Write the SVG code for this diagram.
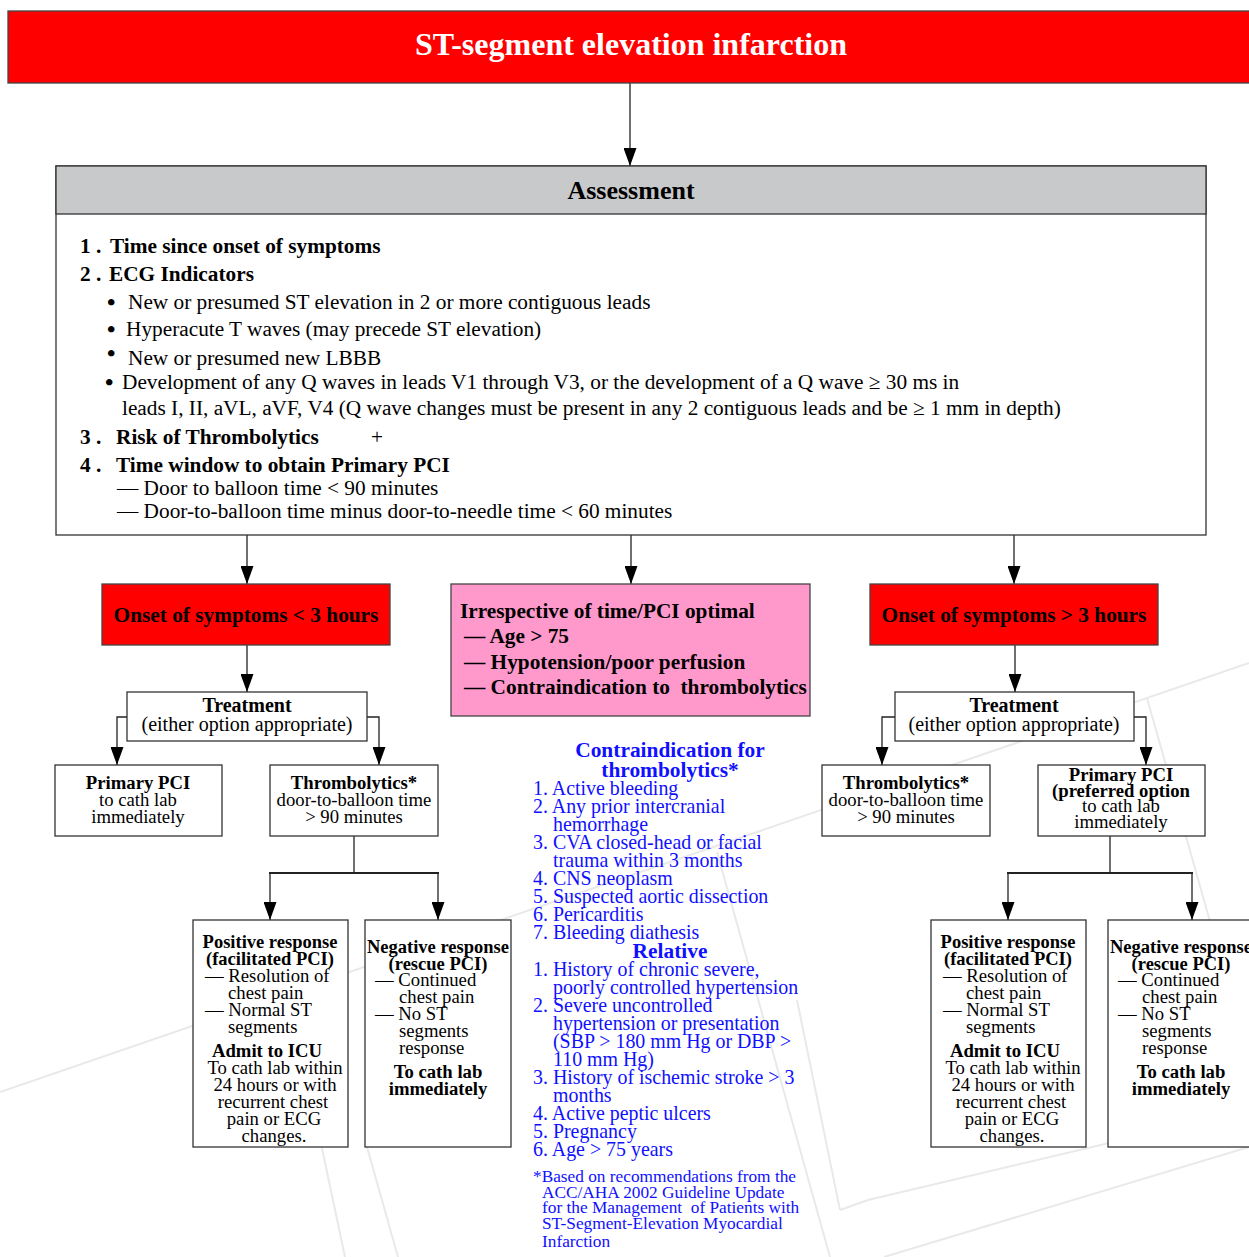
<svg xmlns="http://www.w3.org/2000/svg" width="1249" height="1257" viewBox="0 0 1249 1257">
<defs>
<marker id="ah" markerUnits="userSpaceOnUse" markerWidth="18" markerHeight="13" refX="18" refY="6.5" orient="auto" viewBox="0 0 18 13">
<path d="M0,0 L18,6.5 L0,13 Z" fill="#000"/>
</marker>
<style>
text{font-family:"Liberation Serif","Times New Roman",serif;fill:#000;white-space:pre}
.b{font-weight:bold}
.c{text-anchor:middle}
.box{fill:#fff;stroke:#333;stroke-width:1.3}
.red{fill:#ff0000;stroke:#444;stroke-width:1.3}
.pink{fill:#ff99cc;stroke:#444;stroke-width:1.3}
.wm{stroke:#e9e9e9;stroke-width:2;fill:none}
.con{stroke:#222;stroke-width:1.3;fill:none}
.arr{stroke:#222;stroke-width:1.3;fill:none;marker-end:url(#ah)}
.f21{font-size:21.3px}
.bu{font-size:24px;font-weight:bold}
.f20{font-size:20px}
.f18{font-size:18.7px}
.f17{font-size:18.5px}
.bl{font-size:19.9px;fill:#1010ff}
.bh{font-size:21.4px;font-weight:bold;fill:#1010ff;text-anchor:middle}
.fn{font-size:17.3px;fill:#1010ff}
</style>
</defs>
<rect width="1249" height="1257" fill="#fff"/>
<g id="watermark">
<line class="wm" x1="0" y1="1092" x2="1249" y2="663"/>
<line class="wm" x1="717" y1="852" x2="830" y2="1257"/>
<line class="wm" x1="1147" y1="698" x2="1249" y2="1060"/>
<line class="wm" x1="290" y1="997" x2="345" y2="1257"/>
<line class="wm" x1="367" y1="1147" x2="398" y2="1257"/>
<line class="wm" x1="797" y1="1000" x2="840" y2="1210"/>
<line class="wm" x1="868" y1="1200" x2="1249" y2="1110"/>
<line class="wm" x1="884" y1="1257" x2="1249" y2="1147"/>
<line class="wm" x1="868" y1="1200" x2="840" y2="1210"/>
</g>
<g id="connectors">
<line class="arr" x1="630" y1="83" x2="630" y2="166"/>
<line class="arr" x1="247" y1="535" x2="247" y2="584"/>
<line class="arr" x1="631" y1="535" x2="631" y2="584"/>
<line class="arr" x1="1014" y1="535" x2="1014" y2="584"/>
<line class="arr" x1="247" y1="645" x2="247" y2="692"/>
<line class="arr" x1="1015" y1="645" x2="1015" y2="692"/>
<polyline class="arr" points="127,717 117,717 117,765"/>
<polyline class="arr" points="367,717 379,717 379,765"/>
<polyline class="arr" points="895,717 882,717 882,765"/>
<polyline class="arr" points="1134,717 1146,717 1146,765"/>
<line class="con" x1="354" y1="836" x2="354" y2="873"/>
<line class="con" x1="269" y1="873" x2="439" y2="873" style="stroke-width:2"/>
<line class="arr" x1="270" y1="873" x2="270" y2="920"/>
<line class="arr" x1="438" y1="873" x2="438" y2="920"/>
<line class="con" x1="1110" y1="836" x2="1110" y2="873"/>
<line class="con" x1="1007" y1="873" x2="1193" y2="873" style="stroke-width:2"/>
<line class="arr" x1="1008" y1="873" x2="1008" y2="920"/>
<line class="arr" x1="1192" y1="873" x2="1192" y2="920"/>
</g>
<g id="title">
<rect class="red" x="8" y="11" width="1250" height="72"/>
<text class="b c" x="631" y="55" style="font-size:32px;fill:#fff">ST-segment elevation infarction</text>
</g>
<g id="assessment">
<rect class="box" x="56" y="166" width="1150" height="369"/>
<rect x="56" y="166" width="1150" height="48" fill="#c8c9cb" stroke="#333" stroke-width="1.3"/>
<text class="b c" x="631" y="199" style="font-size:26px">Assessment</text>
<text class="b f21" x="80" y="253">1 .</text>
<text class="b f21" x="110" y="253">Time since onset of symptoms</text>
<text class="b f21" x="80" y="281">2 .</text>
<text class="b f21" x="109" y="281">ECG Indicators</text>
<text class="bu" x="107" y="310">•</text>
<text class="f21" x="128" y="309">New or presumed ST elevation in 2 or more contiguous leads</text>
<text class="bu" x="107" y="337">•</text>
<text class="f21" x="126" y="336">Hyperacute T waves (may precede ST elevation)</text>
<text class="bu" x="107" y="361">•</text>
<text class="f21" x="128" y="365">New or presumed new LBBB</text>
<text class="bu" x="105" y="390">•</text>
<text class="f21" x="122" y="389">Development of any Q waves in leads V1 through V3, or the development of a Q wave ≥ 30 ms in</text>
<text class="f21" x="122" y="415">leads I, II, aVL, aVF, V4 (Q wave changes must be present in any 2 contiguous leads and be ≥ 1 mm in depth)</text>
<text class="b f21" x="80" y="444">3 .</text>
<text class="b f21" x="116" y="444">Risk of Thrombolytics</text>
<text class="f21" x="371" y="444">+</text>
<text class="b f21" x="80" y="472">4 .</text>
<text class="b f21" x="116" y="472">Time window to obtain Primary PCI</text>
<text class="f21" x="117" y="495">— Door to balloon time &lt; 90 minutes</text>
<text class="f21" x="117" y="518">— Door-to-balloon time minus door-to-needle time &lt; 60 minutes</text>
</g>
<g id="onset-lt3">
<rect class="red" x="102" y="584" width="288" height="61"/>
<text class="b c f21" x="246" y="622">Onset of symptoms &lt; 3 hours</text>
</g>
<g id="irrespective">
<rect class="pink" x="451" y="584" width="359" height="132"/>
<text class="b f21" x="460" y="618">Irrespective of time/PCI optimal</text>
<text class="b f21" x="464" y="643">— Age &gt; 75</text>
<text class="b f21" x="464" y="669">— Hypotension/poor perfusion</text>
<text class="b f21" x="464" y="694">— Contraindication to  thrombolytics</text>
</g>
<g id="onset-gt3">
<rect class="red" x="870" y="584" width="288" height="61"/>
<text class="b c f21" x="1014" y="622">Onset of symptoms &gt; 3 hours</text>
</g>
<g id="treatment-left">
<rect class="box" x="127" y="692" width="240" height="49"/>
<text class="b c f20" x="247" y="712">Treatment</text>
<text class="c f20" x="247" y="731">(either option appropriate)</text>
</g>
<g id="pci-left">
<rect class="box" x="55" y="765" width="167" height="71"/>
<text class="b c f18" x="138" y="789">Primary PCI</text>
<text class="c f18" x="138" y="806">to cath lab</text>
<text class="c f18" x="138" y="823">immediately</text>
</g>
<g id="thromb-left">
<rect class="box" x="270" y="765" width="168" height="71"/>
<text class="b c f18" x="354" y="789">Thrombolytics*</text>
<text class="c f18" x="354" y="806">door-to-balloon time</text>
<text class="c f18" x="354" y="823">&gt; 90 minutes</text>
</g>
<g id="positive-left">
<rect class="box" x="193" y="920" width="155" height="227"/>
<text class="b c f17" x="270" y="948">Positive response</text>
<text class="b c f17" x="270" y="965">(facilitated PCI)</text>
<text class="f18" x="205" y="982">— Resolution of</text>
<text class="f18" x="228" y="999">chest pain</text>
<text class="f18" x="205" y="1016">— Normal ST</text>
<text class="f18" x="228" y="1033">segments</text>
<text class="b c f18" x="267" y="1057">Admit to ICU</text>
<text class="c f18" x="275" y="1074">To cath lab within</text>
<text class="c f18" x="275" y="1091">24 hours or with</text>
<text class="c f18" x="273" y="1108">recurrent chest</text>
<text class="c f18" x="274" y="1125">pain or ECG</text>
<text class="c f18" x="274" y="1142">changes.</text>
</g>
<g id="negative-left">
<rect class="box" x="365" y="920" width="146" height="227"/>
<text class="b c f17" x="438" y="953">Negative response</text>
<text class="b c f17" x="438" y="970">(rescue PCI)</text>
<text class="f18" x="375" y="986">— Continued</text>
<text class="f18" x="399" y="1003">chest pain</text>
<text class="f18" x="375" y="1020">— No ST</text>
<text class="f18" x="399" y="1037">segments</text>
<text class="f18" x="399" y="1054">response</text>
<text class="b c f18" x="438" y="1078">To cath lab</text>
<text class="b c f18" x="438" y="1095">immediately</text>
</g>
<g id="contraindications">
<text class="bh" x="670" y="757">Contraindication for</text>
<text class="bh" x="670" y="777">thrombolytics*</text>
<text class="bl" x="533" y="795">1. Active bleeding</text>
<text class="bl" x="533" y="813">2. Any prior intercranial</text>
<text class="bl" x="553" y="831">hemorrhage</text>
<text class="bl" x="533" y="849">3. CVA closed-head or facial</text>
<text class="bl" x="553" y="867">trauma within 3 months</text>
<text class="bl" x="533" y="885">4. CNS neoplasm</text>
<text class="bl" x="533" y="903">5. Suspected aortic dissection</text>
<text class="bl" x="533" y="921">6. Pericarditis</text>
<text class="bl" x="533" y="939">7. Bleeding diathesis</text>
<text class="bh" x="670" y="958">Relative</text>
<text class="bl" x="533" y="976">1. History of chronic severe,</text>
<text class="bl" x="553" y="994">poorly controlled hypertension</text>
<text class="bl" x="533" y="1012">2. Severe uncontrolled</text>
<text class="bl" x="553" y="1030">hypertension or presentation</text>
<text class="bl" x="553" y="1048">(SBP &gt; 180 mm Hg or DBP &gt;</text>
<text class="bl" x="553" y="1066">110 mm Hg)</text>
<text class="bl" x="533" y="1084">3. History of ischemic stroke &gt; 3</text>
<text class="bl" x="553" y="1102">months</text>
<text class="bl" x="533" y="1120">4. Active peptic ulcers</text>
<text class="bl" x="533" y="1138">5. Pregnancy</text>
<text class="bl" x="533" y="1156">6. Age &gt; 75 years</text>
<text class="fn" x="533" y="1182">*Based on recommendations from the</text>
<text class="fn" x="542" y="1198">ACC/AHA 2002 Guideline Update</text>
<text class="fn" x="542" y="1213">for the Management  of Patients with</text>
<text class="fn" x="542" y="1229">ST-Segment-Elevation Myocardial</text>
<text class="fn" x="542" y="1247">Infarction</text>
</g>
<g id="treatment-right">
<rect class="box" x="895" y="692" width="239" height="49"/>
<text class="b c f20" x="1014" y="712">Treatment</text>
<text class="c f20" x="1014" y="731">(either option appropriate)</text>
</g>
<g id="thromb-right">
<rect class="box" x="822" y="765" width="168" height="71"/>
<text class="b c f18" x="906" y="789">Thrombolytics*</text>
<text class="c f18" x="906" y="806">door-to-balloon time</text>
<text class="c f18" x="906" y="823">&gt; 90 minutes</text>
</g>
<g id="pci-right">
<rect class="box" x="1038" y="765" width="167" height="71"/>
<text class="b c f18" x="1121" y="781">Primary PCI</text>
<text class="b c f18" x="1121" y="797">(preferred option</text>
<text class="c f18" x="1121" y="812">to cath lab</text>
<text class="c f18" x="1121" y="828">immediately</text>
</g>
<g id="positive-right">
<rect class="box" x="931" y="920" width="155" height="227"/>
<text class="b c f17" x="1008" y="948">Positive response</text>
<text class="b c f17" x="1008" y="965">(facilitated PCI)</text>
<text class="f18" x="943" y="982">— Resolution of</text>
<text class="f18" x="966" y="999">chest pain</text>
<text class="f18" x="943" y="1016">— Normal ST</text>
<text class="f18" x="966" y="1033">segments</text>
<text class="b c f18" x="1005" y="1057">Admit to ICU</text>
<text class="c f18" x="1013" y="1074">To cath lab within</text>
<text class="c f18" x="1013" y="1091">24 hours or with</text>
<text class="c f18" x="1011" y="1108">recurrent chest</text>
<text class="c f18" x="1012" y="1125">pain or ECG</text>
<text class="c f18" x="1012" y="1142">changes.</text>
</g>
<g id="negative-right">
<rect class="box" x="1108" y="920" width="150" height="227"/>
<text class="b c f17" x="1181" y="953">Negative response</text>
<text class="b c f17" x="1181" y="970">(rescue PCI)</text>
<text class="f18" x="1118" y="986">— Continued</text>
<text class="f18" x="1142" y="1003">chest pain</text>
<text class="f18" x="1118" y="1020">— No ST</text>
<text class="f18" x="1142" y="1037">segments</text>
<text class="f18" x="1142" y="1054">response</text>
<text class="b c f18" x="1181" y="1078">To cath lab</text>
<text class="b c f18" x="1181" y="1095">immediately</text>
</g>
</svg>
